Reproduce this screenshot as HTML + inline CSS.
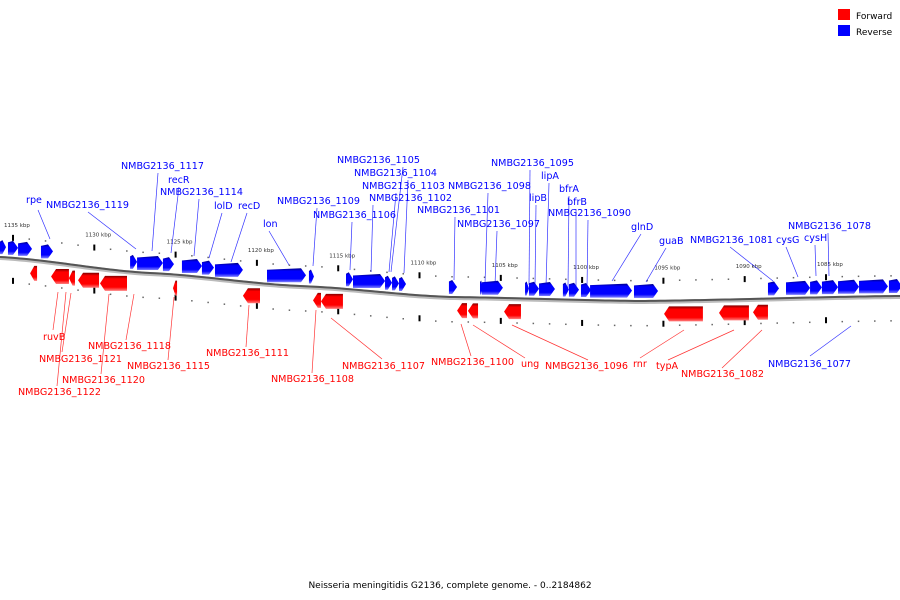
<!DOCTYPE html>
<html><head><meta charset="utf-8"><style>
html,body{margin:0;padding:0;background:#fff;width:900px;height:600px;overflow:hidden}
svg{display:block}
text{font-family:"DejaVu Sans","Liberation Sans",sans-serif}
</style></head><body>
<svg id="map" width="900" height="600" viewBox="0 0 900 600">
<defs>
<linearGradient id="gb" x1="0" y1="0" x2="0" y2="1"><stop offset="0" stop-color="#000080"/><stop offset="0.2" stop-color="#0000ff"/><stop offset="0.75" stop-color="#0000ff"/><stop offset="1" stop-color="#8080ff"/></linearGradient>
<linearGradient id="gr" x1="0" y1="0" x2="0" y2="1"><stop offset="0" stop-color="#800000"/><stop offset="0.2" stop-color="#ff0000"/><stop offset="0.75" stop-color="#ff0000"/><stop offset="1" stop-color="#ff8080"/></linearGradient>
</defs>
<g>
<rect x="838" y="9" width="12" height="11" fill="#ff0000"/>
<text x="856" y="19" font-size="9" fill="#000">Forward</text>
<rect x="838" y="25" width="12" height="11" fill="#0000ff"/>
<text x="856" y="35" font-size="9" fill="#000">Reverse</text>
</g>
<text x="450" y="588" font-size="9" text-anchor="middle" fill="#000">Neisseria meningitidis G2136, complete genome. - 0..2184862</text>
</svg>
<script>
const tickKbp=[1135,1130,1125,1120,1115,1110,1105,1100,1095,1090,1085];
const blueStart=[1135.80,1135.31,1134.69,1133.28,1127.80,1127.37,1125.78,1124.61,1123.38,1122.58,1119.38,1116.80,1114.52,1114.09,1112.12,1111.69,1111.26,1108.19,1106.28,1106.16,1103.51,1103.27,1102.65,1101.18,1100.81,1100.07,1099.51,1096.81,1088.57,1087.46,1085.98,1085.25,1084.26,1082.97,1081.13];
const blueEnd=[1135.43,1134.69,1133.83,1132.54,1127.37,1125.78,1125.10,1123.38,1122.64,1120.86,1116.98,1116.49,1114.09,1112.12,1111.69,1111.26,1110.83,1107.69,1106.10,1104.87,1103.27,1102.65,1101.67,1100.81,1100.19,1099.45,1096.93,1095.33,1087.89,1085.98,1085.25,1084.26,1082.97,1081.19,1080.33];
const redStart=[1133.95,1132.66,1131.56,1131.00,1129.65,1125.16,1120.86,1116.55,1116.06,1107.69,1107.02,1104.80,1094.96,1091.58,1089.49];
const redEnd=[1133.52,1131.56,1131.19,1129.71,1127.99,1124.91,1119.81,1116.06,1114.71,1107.08,1106.40,1103.76,1092.57,1089.74,1088.57];
const blueLabels=[
["rpe",26,203,38,210,50,239],["NMBG2136_1119",46,208,88,212,136,249],["NMBG2136_1117",121,169,158,173,152,251],
["recR",168,183,179,187,171,253],["NMBG2136_1114",160,195,199,199,194,256],["lolD",214,209,222,213,209,258],
["recD",238,209,247,213,231,262],["lon",263,227,269,231,289,265],["NMBG2136_1109",277,204,317,208,313,266],
["NMBG2136_1105",337,163,403,167,391,272],["NMBG2136_1106",313,218,352,222,350,270],["NMBG2136_1104",354,176,408,180,404,273],
["NMBG2136_1103",362,189,396,193,389,272],["NMBG2136_1102",369,201,373,205,371,272],["NMBG2136_1101",417,213,455,217,454,280],
["NMBG2136_1098",448,189,488,193,485,283],["NMBG2136_1097",457,227,497,231,495,285],["NMBG2136_1095",491,166,530,170,529,285],
["lipA",541,179,549,183,546,286],["lipB",529,201,536,205,535,286],["bfrA",559,192,569,196,568,288],
["bfrB",567,205,576,209,576,288],["NMBG2136_1090",548,216,588,220,587,288],["glnD",631,230,641,234,612,281],
["guaB",659,244,666,248,646,282],["NMBG2136_1081",690,243,730,247,773,281],["cysG",776,243,786,247,798,277],
["cysH",804,241,815,245,816,276],["NMBG2136_1078",788,229,828,233,829,276],["NMBG2136_1077",768,367,810,356,851,326]];
const redLabels=[
["ruvB",43,340,58,292,53,330],["NMBG2136_1121",39,362,71,293,62,352],["NMBG2136_1118",88,349,134,294,126,340],
["NMBG2136_1120",62,383,109,294,101,374],["NMBG2136_1122",18,395,66,292,57,386],["NMBG2136_1115",127,369,174,297,168,360],
["NMBG2136_1111",206,356,249,305,246,347],["NMBG2136_1108",271,382,316,310,312,373],["NMBG2136_1107",342,369,331,318,382,359],
["NMBG2136_1100",431,365,461,324,471,356],["ung",521,367,473,325,525,358],["NMBG2136_1096",545,369,512,325,588,360],
["rnr",633,367,684,330,640,358],["typA",656,369,734,330,668,360],["NMBG2136_1082",681,377,762,330,722,368]];

const NS="http://www.w3.org/2000/svg";
const svg=document.getElementById('map');
function xOf(k){return (1135.8-k)*16.26;}
const bp=[[0,257],[150,273],[300,286],[450,297],[640,301],[900,296]];
function yOf(x){
  if(x<=bp[0][0])return bp[0][1];
  for(let i=1;i<bp.length;i++){if(x<=bp[i][0]){const a=bp[i-1],b=bp[i];const t=(x-a[0])/(b[0]-a[0]);const s=t*t*(3-2*t);return a[1]+(b[1]-a[1])*(t*0.5+s*0.5);}}
  return bp[bp.length-1][1];
}
function mk(tag,attrs,parent){const e=document.createElementNS(NS,tag);for(const k in attrs)e.setAttribute(k,attrs[k]);(parent||svg).appendChild(e);return e;}
let d="";for(let x=0;x<=900;x+=5){d+=(x?"L":"M")+x+","+yOf(x).toFixed(2);}
const bbS=mk('path',{d:d,stroke:'#bbbbbb',"stroke-width":4,fill:'none',transform:'translate(0,1)'});


const bb=mk('path',{d:d,stroke:'#555555',"stroke-width":2,fill:'none'});


for(let k=1136;k>=1080;k--){
  const x=xOf(k);if(x<0||x>900)continue;
  const y=yOf(x);const major=(k%5===0);
  const t1=mk('rect',major?{x:x-1,y:y-23,width:2,height:6,fill:'#000'}:{x:x-0.75,y:y-21,width:1.5,height:1.5,fill:'#666'});
  
  
  const t2=mk('rect',major?{x:x-1,y:y+20,width:2,height:6,fill:'#000'}:{x:x-0.75,y:y+24,width:1.5,height:1.5,fill:'#666'});
  
  
}
tickKbp.forEach(k=>{
  const x=xOf(k);const t=mk('text',{x:x-9,y:yOf(x)-31,"font-size":5.5,fill:'#333'});
  t.textContent=k+" kbp";
  
  
});
function gene(s,e,color){
  const x1=xOf(s),x2=xOf(e);const xm=(x1+x2)/2;const y=yOf(xm);
  let top,bot,p;const w=x2-x1;const head=Math.min(5,w*0.6);
  if(color==='b'){top=y-17;bot=y-3;const m=(top+bot)/2;
    p=`${x1},${top+1.5} ${x2-head},${top} ${x2},${m} ${x2-head},${bot} ${x1},${bot}`;}
  else{top=y+6;bot=y+21;const m=(top+bot)/2;
    p=`${x2},${top} ${x1+head},${top} ${x1},${m} ${x1+head},${bot} ${x2},${bot}`;}
  const g=mk('polygon',{points:p,fill:color==='b'?'url(#gb)':'url(#gr)'});
  
  
}
blueStart.forEach((s,i)=>gene(s,blueEnd[i],'b'));
redStart.forEach((s,i)=>gene(s,redEnd[i],'r'));
function labels(arr,col){
  arr.forEach(l=>{
    const ln=mk('line',{x1:l[3],y1:l[4],x2:l[5],y2:l[6],stroke:col,"stroke-width":0.7,opacity:0.8});
    
    
    const t=mk('text',{x:l[1],y:l[2],"font-size":9.6,fill:col});
    t.textContent=l[0];
    
    
  });
}
labels(blueLabels,'#0000ff');
labels(redLabels,'#ff0000');
</script>
</body></html>
